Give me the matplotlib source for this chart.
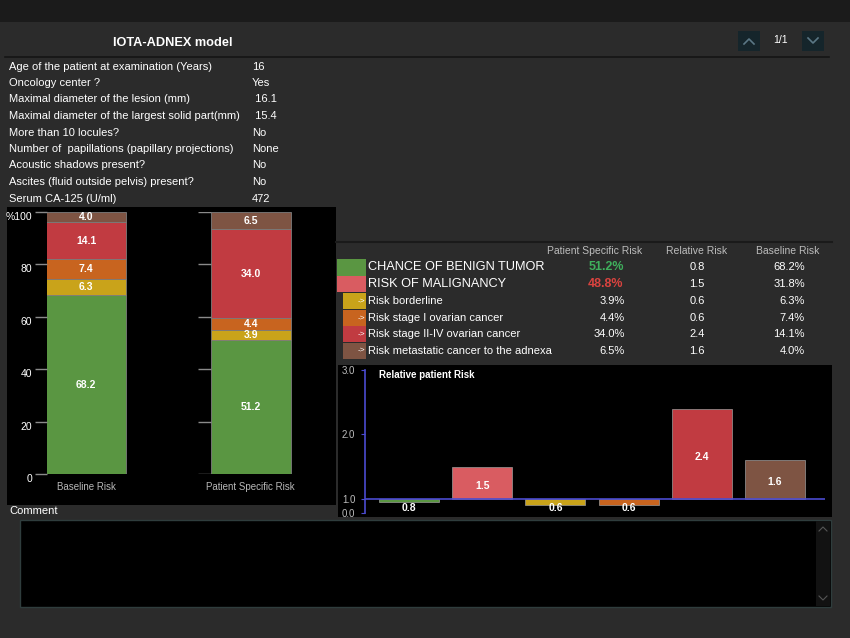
import numpy as np
import matplotlib.pyplot as plt
from matplotlib.patches import Rectangle
from matplotlib import transforms

W, H = 850, 638
plt.rcParams['font.family'] = ['Liberation Sans', 'DejaVu Sans']

# ---- data ----
info_labels = ["Age of the patient at examination (Years)", "Oncology center ?",
               "Maximal diameter of the lesion (mm)",
               "Maximal diameter of the largest solid part(mm)",
               "More than 10 locules?", "Number of  papillations (papillary projections)",
               "Acoustic shadows present?", "Ascites (fluid outside pelvis) present?",
               "Serum CA-125 (U/ml)"]
info_values = ["16", "Yes", " 16.1", " 15.4", "No", "None", "No", "No", "472"]

bar_names = ["Baseline Risk", "Patient Specific Risk"]
baseline_pct = [68.2, 6.3, 7.4, 14.1, 4.0]   # benign, borderline, stage I, stage II-IV, metastatic
patient_pct = [51.2, 3.9, 4.4, 34.0, 6.5]

row_names = ["CHANCE OF BENIGN TUMOR", "RISK OF MALIGNANCY", "Risk borderline",
             "Risk stage I ovarian cancer", "Risk stage II-IV ovarian cancer",
             "Risk metastatic cancer to the adnexa"]
patient_risk = [51.2, 48.8, 3.9, 4.4, 34.0, 6.5]
relative_risk = [0.8, 1.5, 0.6, 0.6, 2.4, 1.6]
baseline_risk = [68.2, 31.8, 6.3, 7.4, 14.1, 4.0]

GREEN, PINK, YELLOW = '#5a9642', '#d95c61', '#c9a31a'
ORANGE, RED, BROWN = '#c8641f', '#c13b41', '#7e5443'
stack_colors = [GREEN, YELLOW, ORANGE, RED, BROWN]
row_colors = [GREEN, PINK, YELLOW, ORANGE, RED, BROWN]
BG = '#2b2b2b'


def box(x0, y0, x1, y1):
    return [x0 / W, 1 - y1 / H, (x1 - x0) / W, (y1 - y0) / H]


fig = plt.figure(figsize=(W / 100, H / 100), dpi=100, facecolor=BG)

# canvas in pixel coords for the UI parts
cv = fig.add_axes([0, 0, 1, 1])
cv.set_xlim(0, W)
cv.set_ylim(H, 0)
cv.axis('off')


def rect(x0, y0, x1, y1, fc, ec='none', lw=0):
    cv.add_patch(Rectangle((x0, y0), x1 - x0, y1 - y0, facecolor=fc, edgecolor=ec, linewidth=lw))


rect(0, 0, W, 22, '#1b1b1b')
cv.plot([5, 829], [56.5, 56.5], color='#151515', lw=1.2)
cv.text(113, 43, "IOTA-ADNEX model", color='white', fontsize=9.2, fontweight='bold', va='center')

# page buttons
rect(738, 31, 760, 51, '#15252b')
rect(802, 31, 824, 51, '#15252b')
cv.plot([744, 749, 754], [44, 39, 44], color='#5b7785', lw=1.2)
cv.plot([808, 813, 818], [38, 43, 38], color='#5b7785', lw=1.2)
cv.text(781, 40, "1/1", color='white', fontsize=7.5, ha='center', va='center')

# patient info
for i, (lab, val) in enumerate(zip(info_labels, info_values)):
    y = 66.5 + i * 16.5
    cv.text(9, y, lab, color='white', fontsize=8, va='center')
    cv.text(252, y, val, color='white', fontsize=8, va='center')

# panels
rect(7, 207, 336, 505, 'black')
rect(338, 365, 832, 517, 'black')
cv.plot([336, 832], [242, 242], color='#1a1a1a', lw=1.5)

# risk table
for cx, head in zip([595, 697, 788], ["Patient Specific Risk", "Relative Risk", "Baseline Risk"]):
    cv.text(cx, 251, head, color='#bdbdbd', fontsize=7.5, ha='center', va='center')
row_y = [267.5, 284, 301, 318, 334, 350.5]
for i, name in enumerate(row_names):
    y = row_y[i]
    if i < 2:
        rect(337, y - 8.3, 366, y + 8.3, row_colors[i])
        cv.text(368, y, name, color='white', fontsize=9.2, va='center')
        c = '#3fae5c' if i == 0 else '#d9433f'
        cv.text(606, y, f"{patient_risk[i]:.1f}%", color=c, fontsize=9, fontweight='bold',
                ha='center', va='center')
    else:
        rect(343, y - 8, 366, y + 8, row_colors[i])
        cv.text(365, y, "->", color='white', fontsize=6, ha='right', va='center')
        cv.text(368, y, name, color='white', fontsize=8, va='center')
        cv.text(625, y, f"{patient_risk[i]:.1f}%", color='white', fontsize=8, ha='right', va='center')
    cv.text(697, y, f"{relative_risk[i]:.1f}", color='white', fontsize=8, ha='center', va='center')
    cv.text(805, y, f"{baseline_risk[i]:.1f}%", color='white', fontsize=8, ha='right', va='center')

# comment box
cv.text(9, 511, "Comment", color='white', fontsize=8, va='center')
rect(20, 520, 831, 607, 'black', ec='#2f3d3d', lw=1)
rect(816, 521, 830, 606, '#121212')
cv.plot([819, 823, 827], [531, 527, 531], color='#555555', lw=0.8)
cv.plot([819, 823, 827], [596, 600, 596], color='#555555', lw=0.8)

cv.text(379, 374.5, "Relative patient Risk", color='white', fontsize=7, fontweight='bold', va='center')

# ---- stacked percentage bars ----
ax1 = fig.add_axes(box(46.7, 212, 300, 474))
ax1.set_facecolor('none')
sp = 164.4
bw = 80 / sp
ax1.set_xlim((46.7 - 86.3) / sp, (300 - 86.3) / sp)
ax1.set_ylim(0, 100)
xs = np.arange(2)
bottom = np.zeros(2)
for j in range(len(baseline_pct)):
    vals = np.array([baseline_pct[j], patient_pct[j]])
    ax1.bar(xs, vals, bottom=bottom, width=bw, color=stack_colors[j],
            edgecolor='#7c7c7c', linewidth=0.6)
    for x, v, b in zip(xs, vals, bottom):
        ax1.text(x, b + v / 2, f"{v:.1f}", color='white', fontsize=7.5, fontweight='bold',
                 ha='center', va='center')
    bottom += vals
for s in ax1.spines.values():
    s.set_visible(False)
yt = [0, 20, 40, 60, 80, 100]
ax1.set_yticks(yt)
ax1.set_yticklabels(['0', '20', '40', '60', '80', '%100'])
ax1.tick_params(axis='y', length=8.6, width=1, color='#8a8a8a', colors='white',
                labelsize=7.5, pad=2)
ax1.tick_params(axis='y', color='#8a8a8a')
shift = transforms.ScaledTranslation(0, -4 / 100, fig.dpi_scale_trans)
for lab in ax1.get_yticklabels():
    lab.set_transform(lab.get_transform() + shift)
ax1.hlines(yt, 1 - bw / 2 - 13 / sp, 1 - bw / 2, color='#8a8a8a', lw=1)
ax1.set_xticks(xs)
ax1.set_xticklabels(bar_names)
ax1.tick_params(axis='x', length=0, colors='#b8b8b8', labelsize=7, pad=6)

# ---- relative risk bars (broken scale below 1.0) ----
k = 14 / 64


def fwd(y):
    y = np.asarray(y, float)
    return np.where(y < 1, y * k, k + (y - 1))


def inv(u):
    u = np.asarray(u, float)
    return np.where(u < k, u / k, u - k + 1)


ax2 = fig.add_axes(box(365, 370, 825, 513))
ax2.set_facecolor('none')
ax2.set_yscale('function', functions=(fwd, inv))
ax2.set_ylim(0, 3)
rs = 73.2
ax2.set_xlim((365 - 409) / rs, (825 - 409) / rs)
xr = np.arange(len(relative_risk))
rr = np.array(relative_risk)
ax2.bar(xr, rr - 1, bottom=1, width=60 / rs, color=row_colors, edgecolor='#9a9a9a', linewidth=0.5)
ax2.axhline(1, color='#4b4bd0', lw=1.2)
for x, v in zip(xr, rr):
    if v >= 1:
        ax2.annotate(f"{v:.1f}", (x, (1 + v) / 2), xytext=(0, -2), textcoords='offset points',
                     color='white', fontsize=7.5, fontweight='bold', ha='center', va='center')
    else:
        ax2.annotate(f"{v:.1f}", (x, 1), xytext=(0, -6.5), textcoords='offset points',
                     color='white', fontsize=7.5, fontweight='bold', ha='center', va='center')
for n, s in ax2.spines.items():
    s.set_visible(n == 'left')
ax2.spines['left'].set_color('#4b4bd0')
ax2.spines['left'].set_linewidth(1.2)
ax2.set_yticks([0, 1, 2, 3])
ax2.set_yticklabels(['0.0', '1.0', '2.0', '3.0'])
ax2.yaxis.set_minor_locator(plt.NullLocator())
ax2.set_xticks([])
ax2.tick_params(axis='y', length=3, color='#4b4bd0', colors='#bdbdbd', labelsize=7, pad=4)
ax2.tick_params(axis='y', color='#4b4bd0')

fig.savefig('out.png', dpi=100, facecolor=BG)
